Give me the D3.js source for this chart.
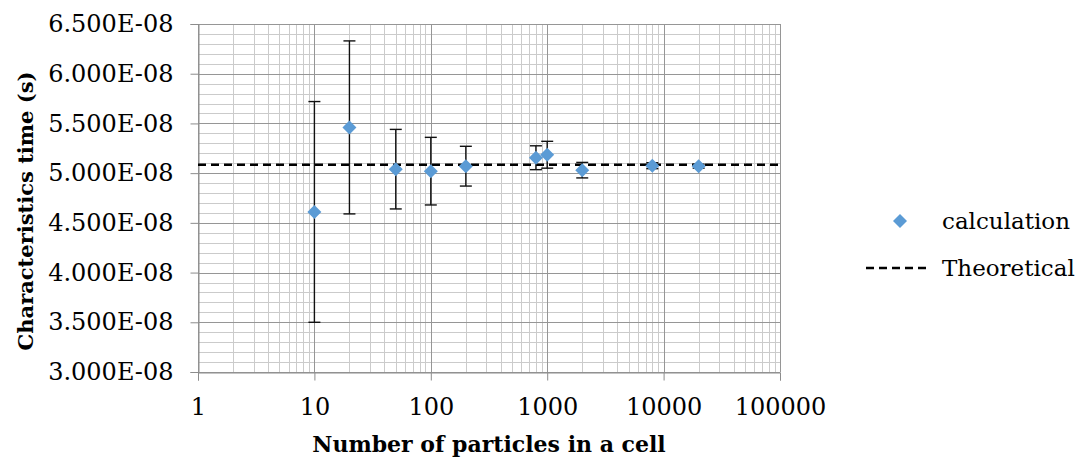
<!DOCTYPE html>
<html>
<head>
<meta charset="utf-8">
<script src="https://cdn.jsdelivr.net/npm/d3@7"></script>
<style>
  html, body { margin: 0; padding: 0; background: #fff; }
  svg { display: block; }
  text { font-family: "DejaVu Serif", serif; fill: #000; }
</style>
</head>
<body>
<svg id="chart" width="1091" height="464"></svg>
<script>
// Number of particles per cell (x) and the measured characteristic time (s)
const particles = [10, 20, 50, 100, 200, 800, 1000, 2000, 8000, 20000];
const meanTime  = [4.61e-8, 5.46e-8, 5.04e-8, 5.02e-8, 5.07e-8, 5.155e-8, 5.185e-8, 5.03e-8, 5.075e-8, 5.07e-8];
const errorTime = [1.11e-8, 0.87e-8, 0.40e-8, 0.34e-8, 0.20e-8, 0.12e-8, 0.135e-8, 0.078e-8, 0.03e-8, 0.02e-8];
const theoreticalTime = 5.085e-8;

const xTickValues = [1, 10, 100, 1000, 10000, 100000];
const yTickValues = [3.0e-8, 3.5e-8, 4.0e-8, 4.5e-8, 5.0e-8, 5.5e-8, 6.0e-8, 6.5e-8];

const seriesName = "calculation";
const theoryName = "Theoretical";
const xTitle = "Number of particles in a cell";
const yTitle = "Characteristics time (s)";

const svg = d3.select("#chart");
const plot = { left: 198, right: 780, top: 24, bottom: 372 };

const x = d3.scaleLog().domain([1, 100000]).range([plot.left, plot.right]);
const y = d3.scaleLinear().domain([3.0e-8, 6.5e-8]).range([plot.bottom, plot.top]);

// Minor grid: 2..9 within each decade, 0.1E-08 steps vertically
const minorX = [];
for (let d = 1; d < 100000; d *= 10) for (let k = 2; k <= 9; k++) minorX.push(d * k);
const minorY = d3.range(30, 66).map(v => v * 1e-9).filter(v => Math.round(v * 1e9) % 5 !== 0);

const grid = svg.append("g");
grid.selectAll(".mx").data(minorX).join("line")
  .attr("x1", d => Math.round(x(d)) + 0.5).attr("x2", d => Math.round(x(d)) + 0.5)
  .attr("y1", plot.top).attr("y2", plot.bottom)
  .attr("stroke", "#cbcbcb").attr("stroke-width", 1);
grid.selectAll(".my").data(minorY).join("line")
  .attr("y1", d => Math.round(y(d)) + 0.5).attr("y2", d => Math.round(y(d)) + 0.5)
  .attr("x1", plot.left).attr("x2", plot.right)
  .attr("stroke", "#cbcbcb").attr("stroke-width", 1);
grid.selectAll(".Mx").data(xTickValues).join("line")
  .attr("x1", d => Math.round(x(d)) + 0.5).attr("x2", d => Math.round(x(d)) + 0.5)
  .attr("y1", plot.top).attr("y2", plot.bottom)
  .attr("stroke", "#969696").attr("stroke-width", 1);
grid.selectAll(".My").data(yTickValues).join("line")
  .attr("y1", d => Math.round(y(d)) + 0.5).attr("y2", d => Math.round(y(d)) + 0.5)
  .attr("x1", plot.left).attr("x2", plot.right)
  .attr("stroke", "#969696").attr("stroke-width", 1);

// Axes
const yAxis = d3.axisLeft(y).tickValues(yTickValues)
  .tickFormat(v => (v * 1e8).toFixed(3) + "E-08").tickSize(8).tickPadding(17);
const gy = svg.append("g").attr("transform", `translate(${plot.left + 0.5},0)`).call(yAxis);
gy.selectAll("path, line").attr("stroke", "#8c8c8c");
gy.selectAll("text").style("font-family", '"DejaVu Serif", serif').style("font-size", "24px").attr("fill", "#000");

const xAxis = d3.axisBottom(x).tickValues(xTickValues)
  .tickFormat(d3.format("d")).tickSize(8).tickPadding(17);
const gx = svg.append("g").attr("transform", `translate(0,${plot.bottom + 0.5})`).call(xAxis);
gx.selectAll("path, line").attr("stroke", "#8c8c8c");
gx.selectAll("text").style("font-family", '"DejaVu Serif", serif').style("font-size", "24px").attr("fill", "#000");

// Theoretical value
svg.append("line")
  .attr("x1", x(1)).attr("x2", x(100000) + 3)
  .attr("y1", y(theoreticalTime)).attr("y2", y(theoreticalTime))
  .attr("stroke", "#000").attr("stroke-width", 2.5).attr("stroke-dasharray", "8,5");

// Error bars
const pts = particles.map((p, i) => ({ p, m: meanTime[i], e: errorTime[i] }));
const eb = svg.append("g").attr("stroke", "#111").attr("stroke-width", 1.4);
eb.selectAll(".v").data(pts).join("line")
  .attr("x1", d => x(d.p)).attr("x2", d => x(d.p))
  .attr("y1", d => y(d.m - d.e)).attr("y2", d => y(d.m + d.e));
eb.selectAll(".t").data(pts).join("line")
  .attr("x1", d => x(d.p) - 6).attr("x2", d => x(d.p) + 6)
  .attr("y1", d => y(d.m + d.e)).attr("y2", d => y(d.m + d.e));
eb.selectAll(".b").data(pts).join("line")
  .attr("x1", d => x(d.p) - 6).attr("x2", d => x(d.p) + 6)
  .attr("y1", d => y(d.m - d.e)).attr("y2", d => y(d.m - d.e));

// Diamond markers
const diamond = r => `M0,${-r}L${r},0L0,${r}L${-r},0Z`;
svg.append("g").selectAll("path").data(pts).join("path")
  .attr("d", diamond(7))
  .attr("transform", d => `translate(${x(d.p)},${y(d.m)})`)
  .attr("fill", "#5b9bd5");

// Axis titles
svg.append("text")
  .attr("x", 489).attr("y", 452)
  .attr("text-anchor", "middle")
  .style("font-size", "22px").style("font-weight", "bold")
  .text(xTitle);
svg.append("text")
  .attr("transform", "translate(33,211) rotate(-90)")
  .attr("text-anchor", "middle")
  .style("font-size", "21px").style("font-weight", "bold")
  .text(yTitle);

// Legend
const lg = svg.append("g");
lg.append("path").attr("d", diamond(7)).attr("transform", "translate(900,221)").attr("fill", "#5b9bd5");
lg.append("text").attr("x", 942).attr("y", 229).style("font-size", "23px").text(seriesName);
lg.append("line").attr("x1", 866).attr("x2", 929).attr("y1", 268).attr("y2", 268)
  .attr("stroke", "#000").attr("stroke-width", 2.5).attr("stroke-dasharray", "8,5");
lg.append("text").attr("x", 942).attr("y", 276).style("font-size", "23px").text(theoryName);
</script>
</body>
</html>
